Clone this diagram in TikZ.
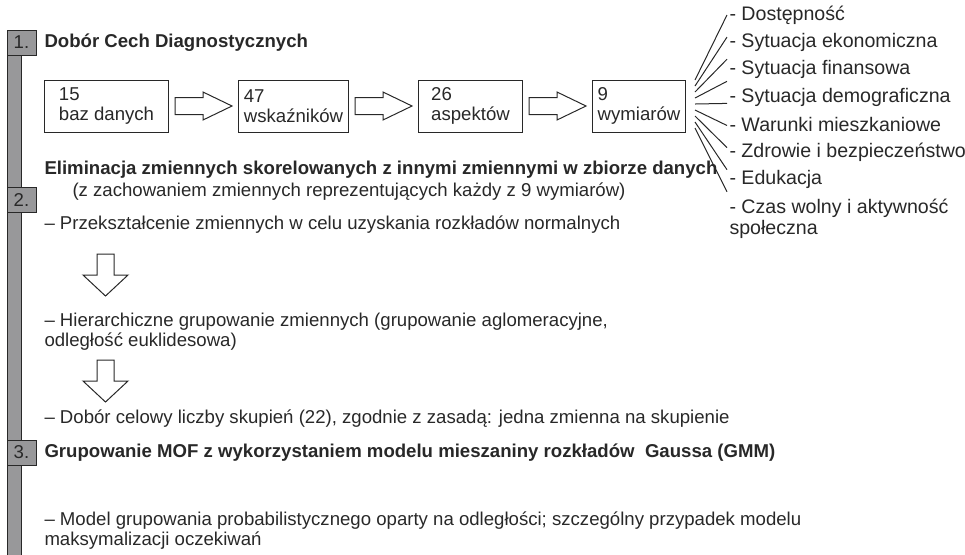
\documentclass[tikz,border=0pt]{standalone}
\usepackage{fontspec}
\setmainfont{Liberation Sans}
\usetikzlibrary{positioning}

\definecolor{bargray}{RGB}{152,152,154}
\definecolor{linegray}{RGB}{40,40,40}

\begin{document}
\begin{tikzpicture}[
		x=0.5pt, y=-0.5pt,
		font=\fontsize{9.3}{10}\selectfont,
		node distance=34.5pt,
		every path/.style={line width=0.5pt, linegray},
		flowbox/.style={draw, minimum height=26pt, align=left, inner sep=0pt},
		rblock/.pic={\draw (0,-8.5) -- (28,-8.5) -- (28,-14) -- (57,0) -- (28,14) -- (28,8.5) -- (0,8.5) -- cycle;},
		dblock/.pic={\draw (-8.5,0) -- (-8.5,21) -- (-22.5,21) -- (0,42) -- (22.5,21) -- (8.5,21) -- (8.5,0) -- cycle;},
		numbox/.style={draw, fill=bargray, minimum width=14.5pt, minimum height=12.5pt, inner sep=0pt},
		heading/.style={anchor=west, inner sep=0pt, font=\fontsize{9.3}{10}\selectfont\bfseries},
		bodytext/.style={anchor=west, inner sep=0pt, align=left},
		dimtext/.style={anchor=west, inner sep=0pt, align=left, font=\fontsize{9.8}{10.5}\selectfont},
	]
		\useasboundingbox (0,0) rectangle (965,554);

		% grey side bar with the step numbers
		\draw[fill=bargray] (7,48) rectangle (21,560);
		\node (n1) [numbox] at (21.5,42.5) {1.};
		\node (n2) [numbox] at (21.5,200) {2.};
		\node (n3) [numbox] at (21.5,452.5) {3.};

		% step 1
		\node (h1) [heading] at (44,43) {Dobór Cech Diagnostycznych};
		\node (a) [flowbox, minimum width=62pt, anchor=west] at (44,106) {15\\baz danych};
		\node (b) [flowbox, minimum width=55pt, right=of a] {47\\wskaźników};
		\node (c) [flowbox, minimum width=52pt, right=of b] {26\\aspektów};
		\node (d) [flowbox, minimum width=46.5pt, right=of c] {9\\wymiarów};
		\pic at ([xshift=3pt]a.east) {rblock};
		\pic at ([xshift=3pt]b.east) {rblock};
		\pic at ([xshift=3pt]c.east) {rblock};

		% the nine dimensions
		\foreach \name [count=\i from 0] in {Dostępność, Sytuacja ekonomiczna, Sytuacja finansowa,
			Sytuacja demograficzna, Warunki mieszkaniowe, Zdrowie i bezpieczeństwo, Edukacja}
			\node (dim\i) [dimtext] at (729,15+27.4*\i) {- \name};
		\node (dim7) [dimtext, anchor=north west] at (729,199) {- Czas wolny i aktywność\\społeczna};
		\foreach \k in {0,...,8} {
			\path (d.east) ++(9,-26+6*\k) coordinate (fs\k);
			\coordinate (fe\k) at (727,15+22.1*\k);
			\draw (fs\k) -- (fe\k);
		}

		% step 2
		\node (h2) [heading] at (44,170) {Eliminacja zmiennych skorelowanych z innymi zmiennymi w zbiorze danych};
		\node (h2b) [bodytext] at (72,192) {(z zachowaniem zmiennych reprezentujących każdy z 9 wymiarów)};
		\node (s1) [bodytext] at (44,225) {– Przekształcenie zmiennych w celu uzyskania rozkładów normalnych};
		\pic at (105.5,254) {dblock};
		\node (s2) [bodytext] at (44,332) {– Hierarchiczne grupowanie zmiennych (grupowanie aglomeracyjne,\\odległość euklidesowa)};
		\pic at (105.5,360) {dblock};
		\node (s3) [bodytext] at (44,419) {– Dobór celowy liczby skupień (22), zgodnie z zasadą: jedna zmienna na skupienie};

		% step 3
		\node (h3) [heading] at (44,453) {Grupowanie MOF z wykorzystaniem modelu mieszaniny rozkładów~ Gaussa (GMM)};
		\node (m1) [bodytext] at (44,531) {– Model grupowania probabilistycznego oparty na odległości; szczególny przypadek modelu\\maksymalizacji oczekiwań};
	\end{tikzpicture}
\end{document}
